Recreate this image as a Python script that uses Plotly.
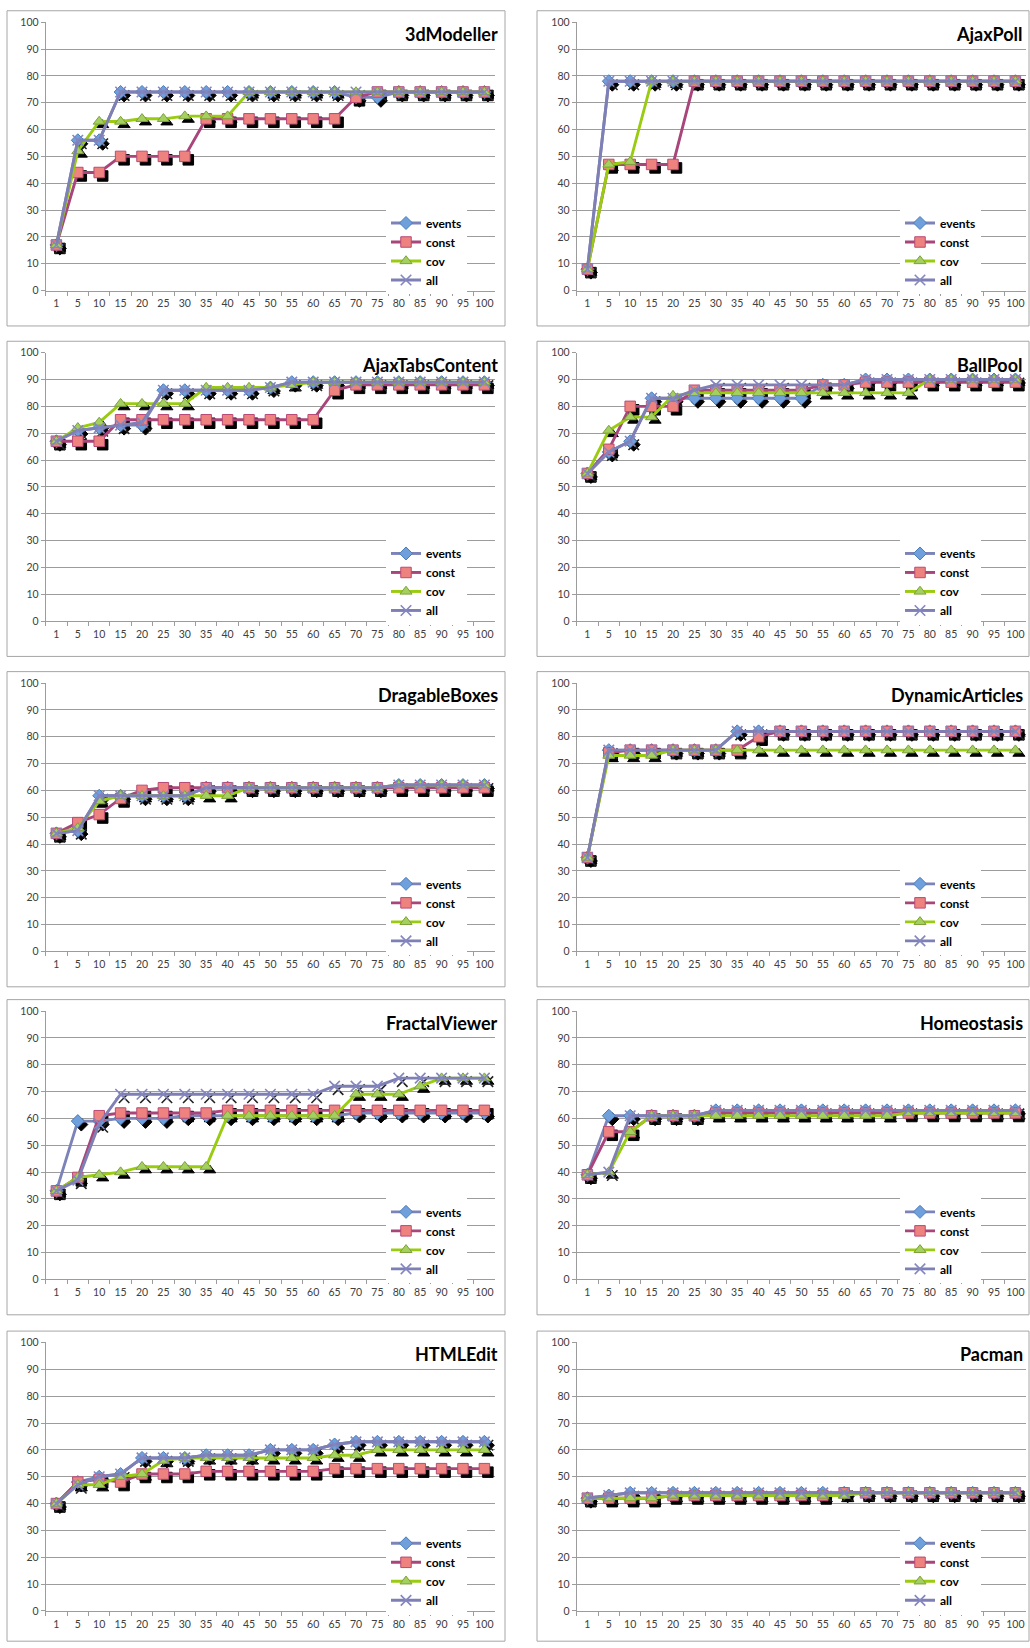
import plotly.graph_objects as go

# ---------------- data ----------------
categories = ["1", "5", "10", "15", "20", "25", "30", "35", "40", "45", "50",
              "55", "60", "65", "70", "75", "80", "85", "90", "95", "100"]
series_names = ["events", "const", "cov", "all"]
y_ticks = [0, 10, 20, 30, 40, 50, 60, 70, 80, 90, 100]

panel_titles = ["3dModeller", "AjaxPoll", "AjaxTabsContent", "BallPool", "DragableBoxes",
                "DynamicArticles", "FractalViewer", "Homeostasis", "HTMLEdit", "Pacman"]

modeller_events = [17, 56, 56, 74, 74, 74, 74, 74, 74, 74, 74, 74, 74, 74, 72, 72, 74, 74, 74, 74, 74]
modeller_const  = [17, 44, 44, 50, 50, 50, 50, 64, 64, 64, 64, 64, 64, 64, 72, 74, 74, 74, 74, 74, 74]
modeller_cov    = [17, 52, 63, 63, 64, 64, 65, 65, 65, 74, 74, 74, 74, 74, 74, 74, 74, 74, 74, 74, 74]
modeller_all    = [17, 56, 56, 74, 74, 74, 74, 74, 74, 74, 74, 74, 74, 74, 74, 74, 74, 74, 74, 74, 74]

ajaxpoll_events = [8, 78, 78, 78, 78, 78, 78, 78, 78, 78, 78, 78, 78, 78, 78, 78, 78, 78, 78, 78, 78]
ajaxpoll_const  = [8, 47, 47, 47, 47, 78, 78, 78, 78, 78, 78, 78, 78, 78, 78, 78, 78, 78, 78, 78, 78]
ajaxpoll_cov    = [8, 47, 48, 78, 78, 78, 78, 78, 78, 78, 78, 78, 78, 78, 78, 78, 78, 78, 78, 78, 78]
ajaxpoll_all    = [8, 78, 78, 78, 78, 78, 78, 78, 78, 78, 78, 78, 78, 78, 78, 78, 78, 78, 78, 78, 78]

tabs_events = [67, 71, 72, 73, 73, 86, 86, 86, 86, 86, 87, 89, 89, 89, 89, 89, 89, 89, 89, 89, 89]
tabs_const  = [67, 67, 67, 75, 75, 75, 75, 75, 75, 75, 75, 75, 75, 86, 88, 88, 88, 88, 88, 88, 88]
tabs_cov    = [67, 72, 74, 81, 81, 81, 81, 87, 87, 87, 87, 88, 89, 89, 89, 89, 89, 89, 89, 89, 89]
tabs_all    = [67, 71, 72, 73, 74, 86, 86, 86, 86, 86, 87, 89, 89, 89, 89, 89, 89, 89, 89, 89, 89]

ballpool_events = [55, 63, 67, 83, 83, 83, 83, 83, 83, 83, 83, 88, 88, 90, 90, 90, 90, 90, 90, 90, 90]
ballpool_const  = [55, 64, 80, 80, 80, 86, 86, 86, 86, 86, 86, 88, 88, 89, 89, 89, 89, 89, 89, 89, 89]
ballpool_cov    = [55, 71, 76, 76, 84, 85, 85, 85, 85, 85, 85, 85, 85, 85, 85, 85, 90, 90, 90, 90, 90]
ballpool_all    = [55, 63, 67, 83, 83, 86, 88, 88, 88, 88, 88, 88, 88, 90, 90, 90, 90, 90, 90, 90, 90]

drag_events = [44, 45, 58, 58, 58, 58, 58, 61, 61, 61, 61, 61, 61, 61, 61, 61, 62, 62, 62, 62, 62]
drag_const  = [44, 48, 51, 57, 60, 61, 61, 61, 61, 61, 61, 61, 61, 61, 61, 61, 61, 61, 61, 61, 61]
drag_cov    = [44, 46, 56, 58, 58, 58, 58, 58, 58, 61, 61, 61, 61, 61, 61, 61, 62, 62, 62, 62, 62]
drag_all    = [44, 45, 58, 58, 58, 58, 58, 61, 61, 61, 61, 61, 61, 61, 61, 61, 62, 62, 62, 62, 62]

dynamic_events = [35, 75, 75, 75, 75, 75, 75, 82, 82, 82, 82, 82, 82, 82, 82, 82, 82, 82, 82, 82, 82]
dynamic_const  = [35, 74, 75, 75, 75, 75, 75, 75, 80, 82, 82, 82, 82, 82, 82, 82, 82, 82, 82, 82, 82]
dynamic_cov    = [35, 73, 73, 73, 75, 75, 75, 75, 75, 75, 75, 75, 75, 75, 75, 75, 75, 75, 75, 75, 75]
dynamic_all    = [35, 75, 75, 75, 75, 75, 75, 82, 82, 82, 82, 82, 82, 82, 82, 82, 82, 82, 82, 82, 82]

fractal_events = [33, 59, 59, 60, 60, 60, 61, 61, 61, 61, 61, 61, 61, 61, 62, 62, 62, 62, 62, 62, 62]
fractal_const  = [33, 38, 61, 62, 62, 62, 62, 62, 63, 63, 63, 63, 63, 63, 63, 63, 63, 63, 63, 63, 63]
fractal_cov    = [33, 38, 39, 40, 42, 42, 42, 42, 61, 61, 61, 61, 61, 61, 69, 69, 69, 72, 75, 75, 75]
fractal_all    = [33, 37, 58, 69, 69, 69, 69, 69, 69, 69, 69, 69, 69, 72, 72, 72, 75, 75, 75, 75, 75]

homeo_events = [39, 61, 61, 61, 61, 61, 63, 63, 63, 63, 63, 63, 63, 63, 63, 63, 63, 63, 63, 63, 63]
homeo_const  = [39, 55, 55, 61, 61, 61, 62, 62, 62, 62, 62, 62, 62, 62, 62, 62, 62, 62, 62, 62, 62]
homeo_cov    = [39, 40, 55, 61, 61, 61, 61, 61, 61, 61, 61, 61, 61, 61, 61, 62, 62, 62, 62, 62, 62]
homeo_all    = [39, 40, 61, 61, 61, 61, 63, 63, 63, 63, 63, 63, 63, 63, 63, 63, 63, 63, 63, 63, 63]

html_events = [40, 48, 50, 51, 57, 57, 57, 58, 58, 58, 60, 60, 60, 62, 63, 63, 63, 63, 63, 63, 63]
html_const  = [40, 48, 49, 48, 51, 51, 51, 52, 52, 52, 52, 52, 52, 53, 53, 53, 53, 53, 53, 53, 53]
html_cov    = [40, 47, 47, 50, 51, 56, 57, 57, 57, 57, 57, 57, 57, 58, 58, 60, 60, 60, 60, 60, 60]
html_all    = [40, 47, 50, 51, 57, 57, 57, 58, 58, 58, 60, 60, 60, 62, 63, 63, 63, 63, 63, 63, 63]

pacman_events = [42, 43, 44, 44, 44, 44, 44, 44, 44, 44, 44, 44, 44, 44, 44, 44, 44, 44, 44, 44, 44]
pacman_const  = [42, 42, 42, 42, 43, 43, 43, 43, 43, 43, 43, 43, 44, 44, 44, 44, 44, 44, 44, 44, 44]
pacman_cov    = [42, 42, 42, 42, 43, 43, 43, 43, 43, 43, 43, 43, 43, 44, 44, 44, 44, 44, 44, 44, 44]
pacman_all    = [42, 43, 44, 44, 44, 44, 44, 44, 44, 44, 44, 44, 44, 44, 44, 44, 44, 44, 44, 44, 44]

panel_series = [
    (modeller_events, modeller_const, modeller_cov, modeller_all),
    (ajaxpoll_events, ajaxpoll_const, ajaxpoll_cov, ajaxpoll_all),
    (tabs_events, tabs_const, tabs_cov, tabs_all),
    (ballpool_events, ballpool_const, ballpool_cov, ballpool_all),
    (drag_events, drag_const, drag_cov, drag_all),
    (dynamic_events, dynamic_const, dynamic_cov, dynamic_all),
    (fractal_events, fractal_const, fractal_cov, fractal_all),
    (homeo_events, homeo_const, homeo_cov, homeo_all),
    (html_events, html_const, html_cov, html_all),
    (pacman_events, pacman_const, pacman_cov, pacman_all),
]

# ---------------- styles ----------------
W, H = 1030, 1648
col_left = [45.7, 576.7]
plot_w = 449.4
row_top = [16.3, 349.2, 682.0, 1012.4, 1346.3]
plot_h = 270.4
box_x = [(7, 505), (537, 1029)]
legend_text_x = [426, 940]
title_right = [500, 1025]
shadow_px = 3.5

line_colors = ["#7C83B8", "#A8457A", "#99CC11", "#7E7FB5"]
marker_styles = [
    dict(symbol="diamond", size=10, color="#6FA0DC", line=dict(color="#4A7EBB", width=1)),
    dict(symbol="square", size=10.5, color="#EE827F", line=dict(color="#B94A76", width=1)),
    dict(symbol="triangle-up", size=10.5, color="#A4D060", line=dict(color="#7EA03A", width=1)),
    dict(symbol="x-thin", size=10.5, color="#8486C0", line=dict(color="#8486C0", width=1.6)),
]
shadow_styles = [
    dict(symbol="diamond", size=10, color="black", line=dict(color="black", width=1)),
    dict(symbol="square", size=10.5, color="black", line=dict(color="black", width=1)),
    dict(symbol="triangle-up", size=10.5, color="black", line=dict(color="black", width=1)),
    dict(symbol="x-thin", size=10.5, color="#222222", line=dict(color="#222222", width=1.6)),
]

grid_col = "#9C9C9C"
tick_font = dict(family="Lato", size=10.5, color="#404040")

fig = go.Figure()
layout = {}
shapes = []
annotations = []

dx_cat = shadow_px / (plot_w / len(categories))
dy_val = shadow_px / (plot_h / 100.0)

for i, (title, series) in enumerate(zip(panel_titles, panel_series)):
    r, c = divmod(i, 2)
    base = i + 1
    dat = i + 11
    bx = "x" if base == 1 else f"x{base}"
    by = "y" if base == 1 else f"y{base}"
    dxn, dyn = f"x{dat}", f"y{dat}"
    leg = "legend" if i == 0 else f"legend{i + 1}"

    left = col_left[c]
    top = row_top[r]
    xdom = [left / W, (left + plot_w) / W]
    ydom = [1 - (top + plot_h) / H, 1 - top / H]

    # shadow traces (base axes)
    for name, vals, sm in zip(series_names, series, shadow_styles):
        fig.add_trace(go.Scatter(x=categories, y=vals, mode="markers", marker=sm,
                                 xaxis=bx, yaxis=by, showlegend=False, hoverinfo="skip"))
    # data traces (overlay axes)
    for name, vals, lc, ms in zip(series_names, series, line_colors, marker_styles):
        fig.add_trace(go.Scatter(x=categories, y=vals, name=name, mode="lines+markers",
                                 line=dict(color=lc, width=2.9), marker=ms,
                                 xaxis=dxn, yaxis=dyn, legend=leg))

    xkey = "xaxis" if base == 1 else f"xaxis{base}"
    ykey = "yaxis" if base == 1 else f"yaxis{base}"
    layout[xkey] = dict(domain=xdom, anchor=by, type="category", categoryorder="array",
                        categoryarray=categories, range=[-0.5 - dx_cat, len(categories) - 0.5 - dx_cat],
                        visible=False)
    layout[ykey] = dict(domain=ydom, anchor=bx, range=[dy_val, 100 + dy_val], visible=False)
    layout[f"xaxis{dat}"] = dict(overlaying=bx, anchor=dyn, type="category", categoryorder="array",
                                 categoryarray=categories, range=[-0.5, len(categories) - 0.5],
                                 showgrid=False, showline=True, linecolor=grid_col, linewidth=1,
                                 ticks="outside", tickson="boundaries", ticklen=4, tickcolor=grid_col,
                                 tickfont=tick_font, tickangle=0, ticklabelstandoff=3, zeroline=False)
    layout[f"yaxis{dat}"] = dict(overlaying=by, anchor=dxn, range=[0, 100], tickvals=y_ticks,
                                 showgrid=True, gridcolor=grid_col, gridwidth=1,
                                 showline=True, linecolor=grid_col, linewidth=1,
                                 ticks="outside", ticklen=4, tickcolor=grid_col,
                                 tickfont=tick_font, zeroline=False)

    layout[leg] = dict(x=(legend_text_x[c] - 40) / W, xanchor="left",
                       y=1 - (top + 231) / H, yanchor="middle",
                       bgcolor="white", borderwidth=0, itemwidth=30,
                       font=dict(family="Lato", size=12, color="black", weight="bold"),
                       traceorder="normal")

    shapes.append(dict(type="rect", xref="paper", yref="paper",
                       x0=box_x[c][0] / W, x1=box_x[c][1] / W,
                       y0=max(0.0005, 1 - (top + 306) / H), y1=1 - (top - 11.5) / H,
                       line=dict(color="#A6A6A6", width=1), fillcolor="rgba(0,0,0,0)", layer="above"))
    annotations.append(dict(text=title, xref="paper", yref="paper",
                            x=title_right[c] / W, xanchor="right",
                            y=1 - (top + 12) / H, yanchor="middle", showarrow=False,
                            font=dict(family="Lato", size=18, color="black", weight="bold")))

fig.update_layout(**layout)
fig.update_layout(width=W, height=H, margin=dict(l=0, r=0, t=0, b=0),
                  paper_bgcolor="white", plot_bgcolor="white",
                  shapes=shapes, annotations=annotations, hovermode=False)

fig.write_html("out.html", config={"displayModeBar": False},
               post_script="document.body.style.margin='0';document.body.style.overflow='hidden';")
